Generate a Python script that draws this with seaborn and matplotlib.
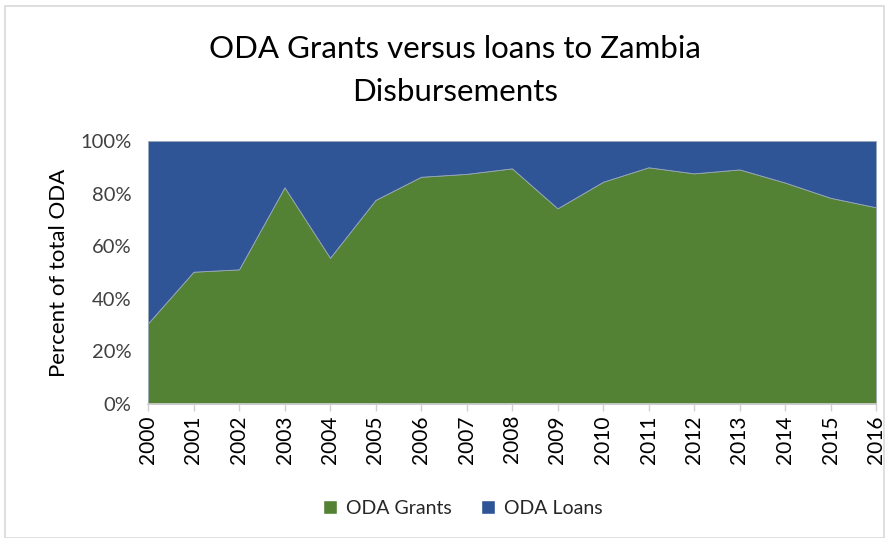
import matplotlib
matplotlib.use("Agg")
import matplotlib.pyplot as plt
import seaborn as sns
import numpy as np
from matplotlib.patches import Rectangle, Patch
from matplotlib.ticker import PercentFormatter

years = [2000, 2001, 2002, 2003, 2004, 2005, 2006, 2007, 2008,
         2009, 2010, 2011, 2012, 2013, 2014, 2015, 2016]
grants = [30.7, 50.3, 51.2, 82.4, 55.6, 77.6, 86.4, 87.5, 89.6,
          74.4, 84.5, 90.0, 87.7, 89.2, 84.2, 78.4, 74.8]
loans = [100 - g for g in grants]
series_names = ["ODA Grants", "ODA Loans"]
colors = ["#548235", "#2F5597"]

sns.set_theme(style="white")
plt.rcParams['font.family'] = ['Lato', 'DejaVu Sans']

fig = plt.figure(figsize=(8.89, 5.38), dpi=100)
ax = fig.add_axes([148/889, 1-404/538, (876-148)/889, (404-141)/538])

ax.stackplot(years, grants, loans, colors=colors, labels=series_names,
             edgecolor="#9aa8b8", linewidth=0.6)

ax.set_xlim(years[0], years[-1])
ax.set_ylim(0, 100)
ax.set_yticks([0, 20, 40, 60, 80, 100])
ax.yaxis.set_major_formatter(PercentFormatter(decimals=0))
ax.set_xticks(years)
ax.set_xticklabels([str(y) for y in years], rotation=90)
ax.tick_params(axis='x', which='both', bottom=True, length=5, width=1,
               color="#d0d0d0", labelsize=15, labelcolor="#000000", pad=3)
ax.tick_params(axis='y', left=False, labelsize=14.5, labelcolor="#404040", pad=6)
for s in ["top", "right", "left"]:
    ax.spines[s].set_visible(False)
ax.spines["bottom"].set_color("#d0d0d0")
ax.set_ylabel("Percent of total ODA", fontsize=16, color="#000000", labelpad=8)

fig.text(455/889, 1-49/538, "ODA Grants versus loans to Zambia", ha="center",
         va="center", fontsize=22.5, color="#000000")
fig.text(455/889, 1-92/538, "Disbursements", ha="center", va="center",
         fontsize=22.5, color="#000000")

handles = [Patch(facecolor=c, label=n) for c, n in zip(colors, series_names)]
fig.legend(handles=handles, loc="center", bbox_to_anchor=(463/889, 1-508/538),
           ncol=2, frameon=False, fontsize=14, handlelength=0.7, handleheight=0.7,
           columnspacing=1.5, handletextpad=0.5)

fig.add_artist(Rectangle((5/889, 0.0), (884-5)/889, 1-6/538, transform=fig.transFigure,
                         fill=False, edgecolor="#d9d9d9", linewidth=1.2))

fig.savefig("out.png", dpi=100)
